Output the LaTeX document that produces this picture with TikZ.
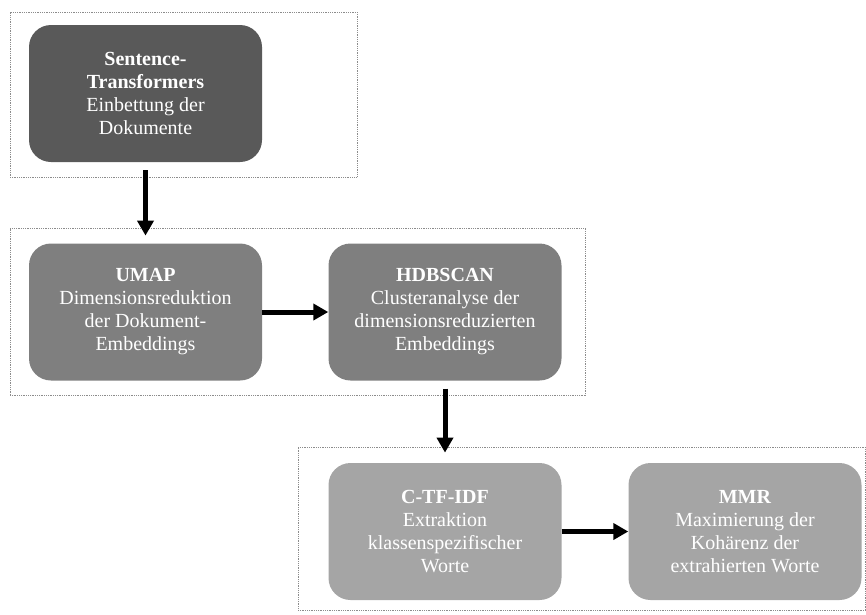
\documentclass[tikz,border=0pt]{standalone}
\usepackage{fontspec}
\setmainfont{Liberation Serif}
\usetikzlibrary{arrows.meta}
\definecolor{stageA}{HTML}{595959}
\definecolor{stageB}{HTML}{7F7F7F}
\definecolor{stageC}{HTML}{A5A5A5}
\definecolor{framegray}{HTML}{8C8C8C}
\begin{document}
\begin{tikzpicture}[x=1pt,y=-1pt,
  stagebox/.style={rounded corners=22pt, minimum width=233pt, minimum height=137pt,
    text=white, align=center, font=\fontsize{20}{23}\selectfont, inner sep=0pt},
  groupframe/.style={draw=framegray, line width=0.8pt, dash pattern=on 0.9pt off 0.9pt, inner sep=0pt},
  flow/.style={line width=5pt, -{Triangle[length=15pt,width=16pt]}}]
\useasboundingbox (0,0) rectangle (866,614);

% group frames
\node[groupframe, minimum width=347pt, minimum height=165pt] (f1) at (183.5,94.5) {};
\node[groupframe, minimum width=575pt, minimum height=167pt] (f2) at (297.5,311.5) {};
\node[groupframe, minimum width=567pt, minimum height=163pt] (f3) at (581.5,528.5) {};

% stages
\node[stagebox, fill=stageA] (st) at (145.5,93.5)
  {\textbf{Sentence-}\\\textbf{Transformers}\\Einbettung der\\Dokumente};
\node[stagebox, fill=stageB] (umap) at (145.5,312)
  {\textbf{UMAP}\\Dimensionsreduktion\\der Dokument-\\Embeddings};
\node[stagebox, fill=stageB] (hdb) at (445,312)
  {\textbf{HDBSCAN}\\Clusteranalyse der\\dimensionsreduzierten\\Embeddings};
\node[stagebox, fill=stageC] (ctf) at (445,531.5)
  {\textbf{C-TF-IDF}\\Extraktion\\klassenspezifischer\\Worte};
\node[stagebox, fill=stageC] (mmr) at (745,531.5)
  {\textbf{MMR}\\Maximierung der\\Kohärenz der\\extrahierten Worte};

% connectors
\draw[flow] ([yshift=-8pt]st.south) -- ([yshift=-8pt]f2.north -| st.south);
\draw[flow] (umap.east) -- (hdb.west);
\draw[flow] ([yshift=-8pt]hdb.south) -- ([yshift=-6pt]f3.north -| hdb.south);
\draw[flow] (ctf.east) -- (mmr.west);
\end{tikzpicture}
\end{document}
